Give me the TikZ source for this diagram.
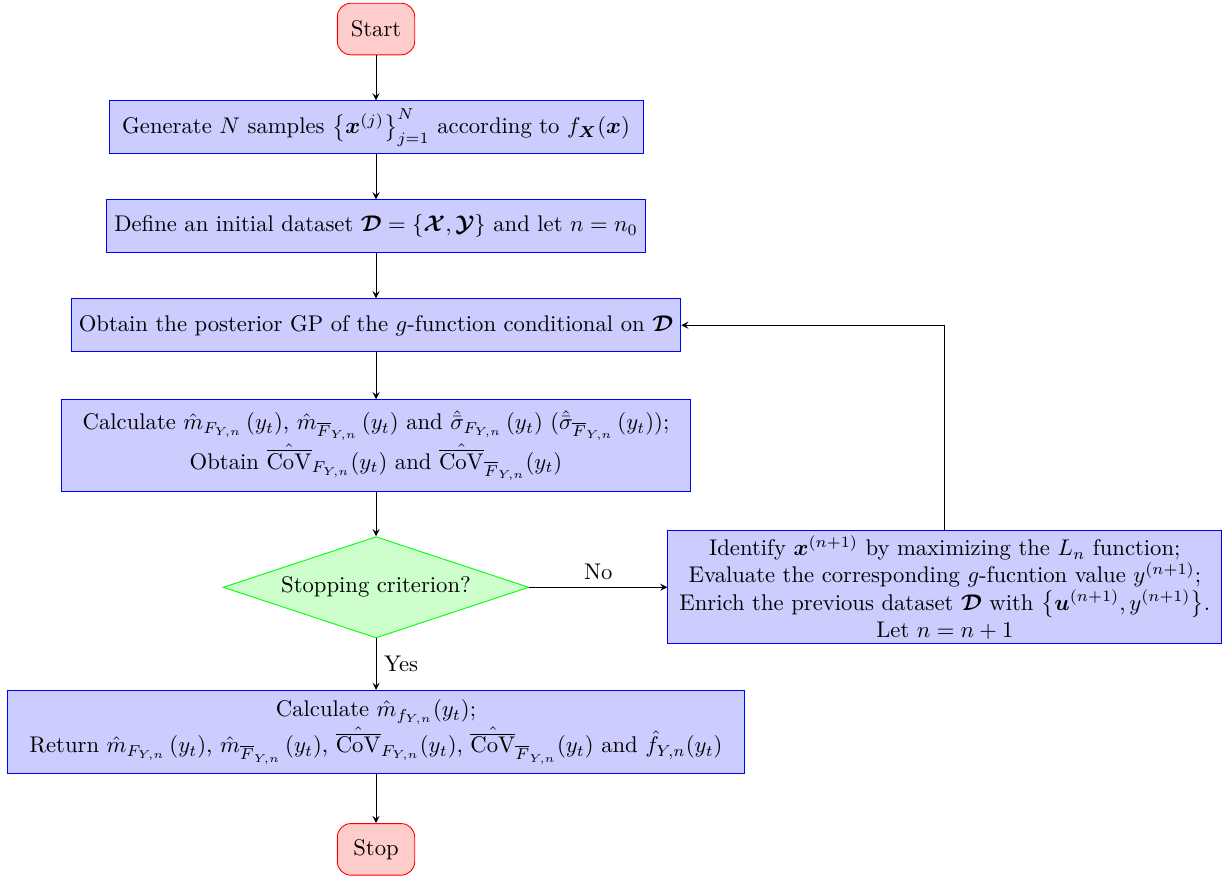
\documentclass[tikz,border=0pt]{standalone}
\usepackage{amsmath}
\usepackage{amssymb}
\usepackage{tikz}
\usetikzlibrary{arrows, positioning, shapes.geometric, calc}
\tikzset{%
	startstop/.style={draw=red, fill=red!20, rectangle, rounded corners=6pt,%
		minimum width=1.2cm, minimum height=0.8cm},
	process/.style={draw=blue, fill=blue!20, rectangle, minimum height=0.82cm, align=center},
	decision/.style={draw=green, fill=green!20, diamond, aspect=3,%
		minimum width=4.74cm, minimum height=1.57cm, inner sep=1pt},
	flow/.style={->, >=stealth}
}

\begin{document}
\begin{tikzpicture}[node distance=0.7cm]
	\useasboundingbox (-5.83,0.45) rectangle (13.24,-13.16);
	\node[startstop] (start) at (0,0) {Start};
	\node[process, minimum width=8.28cm] (gen) [below=of start] {Generate $N$ samples $\left\{\boldsymbol{x}^{(j)}\right\}_{j=1}^{N}$ according to $f_{\boldsymbol{X}}(\boldsymbol{x})$};
	\node[process] (init) [below=of gen] {Define an initial dataset $\boldsymbol{\mathcal{D}}=\{\boldsymbol{\mathcal{X}},\boldsymbol{\mathcal{Y}}\}$ and let $n=n_0$};
	\node[process] (post) [below=of init] {Obtain the posterior GP of the $g$-function conditional on $\boldsymbol{\mathcal{D}}$};
	\node[process, minimum width=9.75cm, minimum height=1.43cm, node distance=0.73cm] (calc) [below=of post] {Calculate $\hat{m}_{F_{Y,n}}\left(y_t\right)$, $\hat{m}_{\overline{F}_{Y,n}}\left(y_t\right)$ and $\hat{\bar{\sigma}}_{F_{Y,n}}\left(y_t\right)$ ($\hat{\bar{\sigma}}_{\overline{F}_{Y,n}}\left(y_t\right)$);\\
		Obtain $\hat{\overline{\mathrm{CoV}}}_{F_{Y,n}}(y_t)$ and $\hat{\overline{\mathrm{CoV}}}_{\overline{F}_{Y,n}}(y_t)$};
	\node[decision, node distance=0.68cm] (stop-crit) [below=of calc] {Stopping criterion?};
	\node[process, minimum width=8.59cm, inner ysep=2pt] (update) [right=2.14cm of stop-crit] {Identify $\boldsymbol{x}^{(n+1)}$ by maximizing the $L_n$ function;\\
		Evaluate the corresponding $g$-fucntion value $y^{(n+1)}$;\\
		Enrich the previous dataset $\boldsymbol{\mathcal{D}}$ with $\left\{\boldsymbol{u}^{(n+1)},y^{(n+1)}\right\}$.\\
		Let $n=n+1$};
	\node[process, minimum width=11.43cm, minimum height=1.29cm, node distance=0.8cm] (ret) [below=of stop-crit] {Calculate $\hat{m}_{f_{Y,n}}(y_t)$;\\
		Return $\hat{m}_{F_{Y,n}}\left(y_t\right)$, $\hat{m}_{\overline{F}_{Y,n}}\left(y_t\right)$, $\hat{\overline{\mathrm{CoV}}}_{F_{Y,n}}(y_t)$, $\hat{\overline{\mathrm{CoV}}}_{\overline{F}_{Y,n}}(y_t)$ and $\hat{f}_{Y,n}(y_t)$};
	\node[startstop, node distance=0.76cm] (stop) [below=of ret] {Stop};
	\draw [flow] (start) -- (gen);
	\draw [flow] (gen) -- (init);
	\draw [flow] (init) -- (post);
	\draw [flow] (post) -- (calc);
	\draw [flow] (calc) -- (stop-crit);
	\draw [flow] (stop-crit) -- node[above]{No} (update);
	\draw [flow] (stop-crit) -- node[right]{Yes} (ret);
	\draw [flow] (update.north) |- (post.east);
	\draw [flow] (ret) -- (stop);
\end{tikzpicture}
\end{document}
